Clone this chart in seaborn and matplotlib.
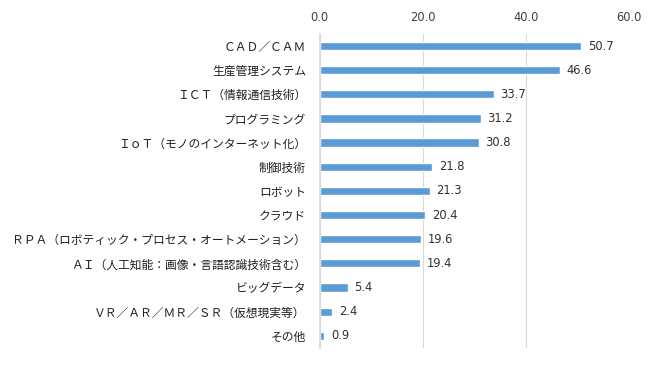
import pandas as pd
import matplotlib
matplotlib.use('Agg')
import matplotlib.pyplot as plt
import seaborn as sns

# data
categories = [
    'ＣＡＤ／ＣＡＭ', '生産管理システム', 'ＩＣＴ（情報通信技術）', 'プログラミング',
    'ＩｏＴ（モノのインターネット化）', '制御技術', 'ロボット', 'クラウド',
    'ＲＰＡ（ロボティック・プロセス・オートメーション）',
    'ＡＩ（人工知能：画像・言語認識技術含む）', 'ビッグデータ',
    'ＶＲ／ＡＲ／ＭＲ／ＳＲ（仮想現実等）', 'その他',
]
values = [50.7, 46.6, 33.7, 31.2, 30.8, 21.8, 21.3, 20.4, 19.6, 19.4, 5.4, 2.4, 0.9]
x_ticks = [0, 20, 40, 60]

sns.set_theme(style='white')
plt.rcParams['font.family'] = ['Noto Sans CJK JP', 'DejaVu Sans']

df = pd.DataFrame({'category': categories, 'value': values})

fig = plt.figure(figsize=(6.5, 3.65), dpi=100)
ax = fig.add_axes([0.492, 0.047, 0.476, 0.860])

sns.barplot(data=df, x='value', y='category', color='#5b9bd5',
            width=0.34, saturation=1, ax=ax, zorder=3)

ax.set_xlim(0, 60)
ax.set_xticks(x_ticks)
ax.set_xticklabels([f'{t:.1f}' for t in x_ticks], fontsize=8.3,
                   family='DejaVu Sans', color='#404040')
ax.xaxis.tick_top()
ax.tick_params(axis='x', length=0, pad=7)
ax.tick_params(axis='y', length=0, pad=10, labelsize=8.5, labelcolor='#202020')
ax.set_xlabel('')
ax.set_ylabel('')
ax.grid(axis='x', color='#d9d9d9', linewidth=0.8, zorder=0)
for s in ['top', 'right', 'bottom']:
    ax.spines[s].set_visible(False)
ax.spines['left'].set_color('#d9d9d9')
ax.spines['left'].set_zorder(4)

for i, v in enumerate(values):
    ax.text(v + 1.3, i, f'{v:.1f}', va='center', ha='left', fontsize=8.3,
            family='DejaVu Sans', color='#303030')

fig.savefig('out.png', dpi=100)
